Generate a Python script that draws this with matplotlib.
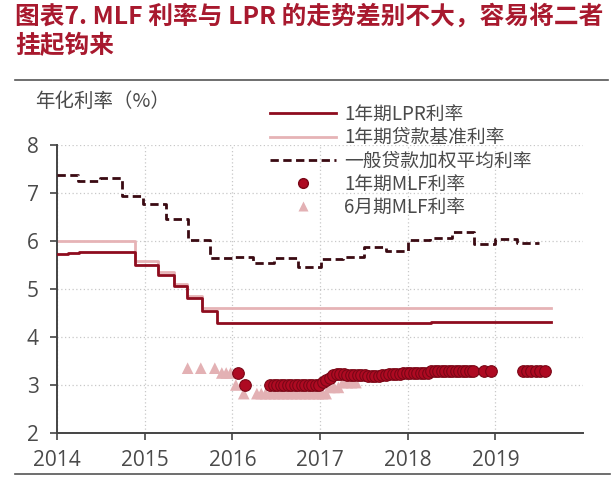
import matplotlib
matplotlib.use("Agg")
import matplotlib.pyplot as plt
from matplotlib.lines import Line2D

plt.rcParams['font.family'] = ['Noto Sans CJK SC', 'DejaVu Sans']

# ---------------- data ----------------
title_line1 = "图表7. MLF 利率与 LPR 的走势差别不大，容易将二者"
title_line2 = "挂起钩来"
ylabel_text = "年化利率（%）"
year_ticks = [2014, 2015, 2016, 2017, 2018, 2019]
y_ticks = [2, 3, 4, 5, 6, 7, 8]

# 1-year LPR (step, value holds until next date)
lpr_dates = [2014.00, 2014.12, 2014.25, 2014.89, 2015.15, 2015.34, 2015.48, 2015.65, 2015.82, 2018.27, 2019.63]
lpr_values = [5.73, 5.75, 5.77, 5.51, 5.30, 5.06, 4.81, 4.55, 4.30, 4.32, 4.32]

# 1-year benchmark lending rate
bench_dates = [2014.00, 2014.89, 2015.15, 2015.34, 2015.48, 2015.65, 2019.63]
bench_values = [6.00, 5.58, 5.35, 5.10, 4.85, 4.60, 4.60]

# weighted average lending rate (quarterly)
wavg_dates = [2014.00, 2014.24, 2014.49, 2014.74, 2014.98, 2015.24, 2015.49, 2015.74,
              2016.00, 2016.24, 2016.48, 2016.75, 2017.01, 2017.26, 2017.50, 2017.75,
              2018.00, 2018.25, 2018.50, 2018.76, 2019.00, 2019.25, 2019.50]
wavg_values = [7.38, 7.25, 7.32, 6.94, 6.77, 6.46, 6.02, 5.64,
               5.66, 5.55, 5.64, 5.45, 5.62, 5.66, 5.88, 5.80,
               6.02, 6.07, 6.19, 5.94, 6.04, 5.95, 5.95]

# 1-year MLF rate
mlf1_dates = [2016.07, 2016.14,
              2016.43, 2016.47, 2016.51, 2016.55, 2016.59, 2016.63, 2016.67, 2016.71,
              2016.75, 2016.79, 2016.83, 2016.87, 2016.91, 2016.95, 2016.99,
              2017.03, 2017.07, 2017.11,
              2017.15, 2017.19, 2017.23, 2017.27, 2017.31, 2017.35, 2017.39, 2017.43,
              2017.47, 2017.51, 2017.55, 2017.59, 2017.63, 2017.67, 2017.71, 2017.75,
              2017.79, 2017.83, 2017.87, 2017.91,
              2017.95, 2017.99, 2018.03, 2018.07, 2018.11, 2018.15, 2018.19, 2018.23,
              2018.27, 2018.31, 2018.35, 2018.39, 2018.43, 2018.47, 2018.51, 2018.55,
              2018.59, 2018.63, 2018.67, 2018.71, 2018.75,
              2018.87, 2018.95,
              2019.31, 2019.36, 2019.41, 2019.46, 2019.51, 2019.57]
mlf1_values = [3.25, 3.00,
               3.00, 3.00, 3.00, 3.00, 3.00, 3.00, 3.00, 3.00,
               3.00, 3.00, 3.00, 3.00, 3.00, 3.00, 3.00,
               3.07, 3.10, 3.15,
               3.20, 3.22, 3.22, 3.22, 3.20, 3.20, 3.20, 3.20,
               3.20, 3.20, 3.18, 3.18, 3.18, 3.18, 3.20, 3.20,
               3.22, 3.22, 3.22, 3.22,
               3.25, 3.25, 3.25, 3.25, 3.25, 3.25, 3.25, 3.25,
               3.30, 3.30, 3.30, 3.30, 3.30, 3.30, 3.30, 3.30,
               3.30, 3.30, 3.30, 3.30, 3.30,
               3.30, 3.30,
               3.30, 3.30, 3.30, 3.30, 3.30, 3.30]

# 6-month MLF rate
mlf6_dates = [2015.49, 2015.64, 2015.80, 2015.88, 2015.93, 2015.98, 2016.04, 2016.13,
              2016.28, 2016.33, 2016.38, 2016.43, 2016.48, 2016.53, 2016.58, 2016.63,
              2016.68, 2016.73, 2016.78, 2016.83, 2016.88, 2016.93, 2016.98, 2017.03, 2017.07,
              2017.11, 2017.16, 2017.21, 2017.26, 2017.31, 2017.36, 2017.41]
mlf6_values = [3.35, 3.35, 3.35, 3.25, 3.25, 3.25, 3.00, 2.82,
               2.82, 2.82, 2.82, 2.82, 2.82, 2.82, 2.82, 2.82,
               2.82, 2.82, 2.82, 2.82, 2.82, 2.82, 2.82, 2.82, 2.82,
               2.95, 2.95, 2.95, 3.05, 3.05, 3.05, 3.05]

# ---------------- style ----------------
c_title = "#A8192E"
c_lpr = "#8E0C1E"
c_bench = "#E6B3B6"
c_wavg = "#3A0A12"
c_mlf1 = "#AE0A22"
c_mlf1_edge = "#7A0616"
c_mlf6 = "#E3B1B4"
c_text = "#4A4A4A"

fig = plt.figure(figsize=(6.16, 5.0), dpi=100)
ax = fig.add_axes([57/616, 1-433/500, (583-57)/616, (433-145)/500])

ax.step(bench_dates, bench_values, where='post', color=c_bench, lw=2.0, zorder=2)
ax.step(lpr_dates, lpr_values, where='post', color=c_lpr, lw=2.0, zorder=3)
ax.step(wavg_dates, wavg_values, where='post', color=c_wavg, lw=2.0,
        linestyle=(0, (3.0, 1.6)), zorder=3)
ax.scatter(mlf6_dates, mlf6_values, marker='^', s=70, color=c_mlf6, edgecolor='none', zorder=4)
ax.scatter(mlf1_dates, mlf1_values, marker='o', s=70, color=c_mlf1, edgecolor=c_mlf1_edge,
           linewidth=0.8, zorder=5)

ax.set_xlim(2014, 2020)
ax.set_ylim(2, 8)
ax.set_xticks(year_ticks)
ax.set_yticks(y_ticks)
ax.set_xticklabels([str(y) for y in year_ticks], family=['Open Sans', 'DejaVu Sans'])
ax.set_yticklabels([str(y) for y in y_ticks], family=['Open Sans', 'DejaVu Sans'])
ax.tick_params(axis='both', labelsize=15, colors="#444444", labelcolor=c_text,
               length=5, width=1.2, direction='out')
ax.tick_params(axis='x', pad=7)
ax.tick_params(axis='y', pad=8)
ax.grid(True, color="#C8C8C8", linestyle=(0, (1, 2)), lw=0.9)
ax.set_axisbelow(True)
for s in ['top', 'right']:
    ax.spines[s].set_visible(False)
for s in ['left', 'bottom']:
    ax.spines[s].set_color("#444444")
    ax.spines[s].set_linewidth(1.4)

handles = [
    Line2D([], [], color=c_lpr, lw=2.0),
    Line2D([], [], color=c_bench, lw=2.0),
    Line2D([], [], color=c_wavg, lw=2.0, linestyle=(0, (3.0, 1.6))),
    Line2D([], [], marker='o', ls='none', color=c_mlf1, markeredgecolor=c_mlf1_edge, markersize=7),
    Line2D([], [], marker='^', ls='none', color=c_mlf6, markeredgecolor='none', markersize=6.5),
]
labels = ["1年期LPR利率", "1年期贷款基准利率", "一般贷款加权平均利率", "1年期MLF利率", "6月期MLF利率"]
leg = fig.legend(handles, labels, loc='upper left', bbox_to_anchor=(270/616, 1-104/500),
                 frameon=False, fontsize=13.5, handlelength=3.5, handletextpad=0.45,
                 labelspacing=0.12, borderpad=0, borderaxespad=0)
for t in leg.get_texts():
    t.set_color(c_text)

# title and labels
fig.text(15/616, 1-16/500, title_line1, color=c_title, fontsize=17.8, fontweight='bold',
         va='center', ha='left')
fig.text(15/616, 1-46/500, title_line2, color=c_title, fontsize=17.8, fontweight='bold',
         va='center', ha='left')
fig.text(35/616, 1-101/500, ylabel_text, color=c_text, fontsize=14, va='center', ha='left')

# horizontal rules
fig.add_artist(Line2D([15/616, 608/616], [1-80/500, 1-80/500], color="#555555", lw=1.2))
fig.add_artist(Line2D([15/616, 610/616], [1-474/500, 1-474/500], color="#555555", lw=1.2))

fig.savefig("out.png", dpi=100)
